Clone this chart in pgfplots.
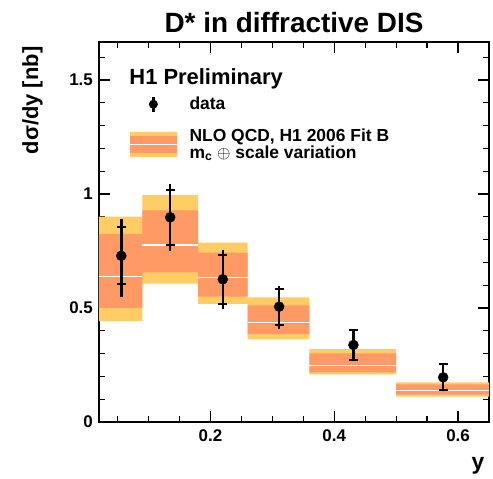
\documentclass[border=0pt]{standalone}
\usepackage{fontspec}
\setmainfont{Liberation Sans}
\usepackage{pgfplots}
\pgfplotsset{compat=1.18}
\definecolor{bandout}{HTML}{FFCC66}
\definecolor{bandin}{HTML}{FF9966}

\pgfplotstableread{
x y ep em sp sm
0.056 0.729 0.163 0.179 0.125 0.122
0.135 0.898 0.146 0.147 0.120 0.120
0.220 0.626 0.128 0.130 0.106 0.110
0.311 0.506 0.090 0.100 0.077 0.081
0.431 0.338 0.066 0.066 0.066 0.066
0.576 0.196 0.058 0.056 0.058 0.056
}\datatab

\begin{document}
\begin{tikzpicture}
\useasboundingbox (-99bp,-57bp) rectangle (394bp,422bp);
\begin{axis}[
  scale only axis, width=390bp, height=380bp,
  xmin=0.02, xmax=0.65, ymin=0, ymax=1.667,
  clip mode=individual,
  xtick={0.2,0.4,0.6},
  minor xtick={0.05,0.1,0.15,0.25,0.3,0.35,0.45,0.5,0.55,0.65},
  ytick={0,0.5,1,1.5},
  minor ytick={0.1,0.2,0.3,0.4,0.6,0.7,0.8,0.9,1.1,1.2,1.3,1.4,1.6},
  tick align=inside, major tick length=11bp, minor tick length=6bp,
  axis line style={line width=1.4bp},
  every tick/.style={line width=1.2bp, black},
  /pgf/number format/assume math mode=true,
  ticklabel style={font=\fontsize{17}{17}\selectfont\bfseries},
  xticklabel style={anchor=north, inner sep=0pt, yshift=-7bp},
  yticklabel style={anchor=east, inner sep=0pt, xshift=-6bp},
  unbounded coords=jump,
  reverse legend,
  legend style={at={(0.0769,0.8697)}, anchor=north west, draw=none, fill=none,
    inner sep=0pt, row sep=10bp, column sep=10bp,
    font=\fontsize{17.5}{15}\selectfont\bfseries,
    cells={anchor=west, inner sep=0pt, align=left}},
  legend cell align=left,
]
% outer band
\addplot[fill=bandout, draw=none,
  legend image code/.code={
    \fill[bandout] (0bp,-12.5bp) rectangle (47bp,12.5bp);
    \fill[bandin] (0bp,-8.5bp) rectangle (47bp,8.5bp);
    \draw[white, line width=1.4bp] (0bp,0bp) -- (47bp,0bp);
  }] coordinates {
  (0.02,0.443) (0.09,0.443) (0.09,0.901) (0.02,0.901) (0.02,nan)
  (0.09,0.607) (0.18,0.607) (0.18,0.996) (0.09,0.996) (0.09,nan)
  (0.18,0.518) (0.26,0.518) (0.26,0.787) (0.18,0.787) (0.18,nan)
  (0.26,0.363) (0.36,0.363) (0.36,0.547) (0.26,0.547) (0.26,nan)
  (0.36,0.209) (0.50,0.209) (0.50,0.320) (0.36,0.320) (0.36,nan)
  (0.50,0.111) (0.65,0.111) (0.65,0.174) (0.50,0.174)
};
\addlegendentry{NLO QCD, H1 2006 Fit B\\m\textsubscript{c} $\oplus$ scale variation}
% inner band
\addplot[fill=bandin, draw=none, forget plot] coordinates {
  (0.02,0.501) (0.09,0.501) (0.09,0.825) (0.02,0.825) (0.02,nan)
  (0.09,0.656) (0.18,0.656) (0.18,0.928) (0.09,0.928) (0.09,nan)
  (0.18,0.550) (0.26,0.550) (0.26,0.743) (0.18,0.743) (0.18,nan)
  (0.26,0.386) (0.36,0.386) (0.36,0.512) (0.26,0.512) (0.26,nan)
  (0.36,0.218) (0.50,0.218) (0.50,0.301) (0.36,0.301) (0.36,nan)
  (0.50,0.120) (0.65,0.120) (0.65,0.165) (0.50,0.165)
};
% central values
\addplot[white, line width=1.4bp, forget plot] coordinates {
  (0.02,0.639) (0.09,0.639) (0.09,nan)
  (0.09,0.776) (0.18,0.776) (0.18,nan)
  (0.18,0.635) (0.26,0.635) (0.26,nan)
  (0.26,0.437) (0.36,0.437) (0.36,nan)
  (0.36,0.247) (0.50,0.247) (0.50,nan)
  (0.50,0.139) (0.65,0.139)
};
% statistical error with caps
\addplot[draw=none, mark=none, forget plot,
  error bars/.cd, y dir=both, y explicit,
  error mark=-, error mark options={black, line width=1.8bp, mark size=4.5bp, rotate=90},
  error bar style={black, line width=2.5bp}]
  table[x=x, y=y, y error plus=sp, y error minus=sm] {\datatab};
% total error and markers
\addplot[draw=none, mark=*, mark size=5bp, mark options={black, fill=black},
  legend image code/.code={
    \path (0bp,-12.5bp) rectangle (47bp,12.5bp);
    \draw[black, line width=2.5bp] (23.5bp,-7.5bp) -- (23.5bp,7.5bp);
    \fill[black] (23.5bp,0bp) circle (4.5bp);
  },
  error bars/.cd, y dir=both, y explicit, error mark=none,
  error bar style={black, line width=2.5bp}]
  table[x=x, y=y, y error plus=ep, y error minus=em] {\datatab};
\addlegendentry{data}
\node[anchor=base west, font=\fontsize{22}{22}\selectfont\bfseries] at (rel axis cs:0.069,0.887) {H1 Preliminary};
\node[anchor=base, font=\fontsize{28}{28}\selectfont\bfseries] at (rel axis cs:0.5,1.0237) {D* in diffractive DIS};
\node[anchor=base east, rotate=90, font=\fontsize{22}{22}\selectfont\bfseries] at (rel axis cs:-0.156,0.997) {dσ/dy [nb]};
\node[anchor=base east, font=\fontsize{23}{23}\selectfont\bfseries] at (rel axis cs:0.997,-0.126) {y};
\end{axis}
\end{tikzpicture}
\end{document}
